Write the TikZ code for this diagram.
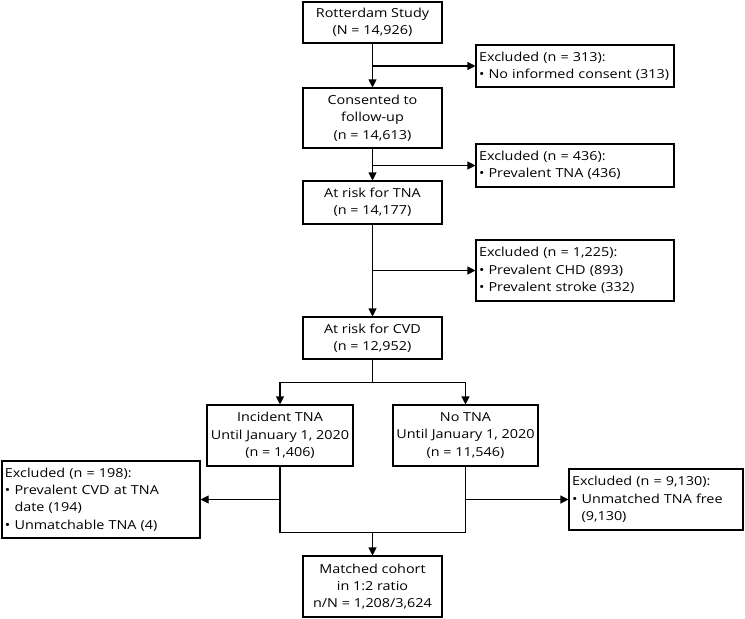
\documentclass[tikz,border=0pt]{standalone}
\usepackage{fontspec}
\setmainfont{Open Sans}[FakeStretch=1.16]
\usetikzlibrary{arrows.meta}
\begin{document}
\begin{tikzpicture}[x=1pt,y=-1pt,line width=1.1pt,
    box/.style={draw,align=center,minimum width=139pt,inner sep=1pt,
      font=\fontsize{12.4}{17.4}\selectfont},
    exbox/.style={draw,align=left,inner xsep=3pt,inner ysep=1pt,
      font=\fontsize{12.4}{17.4}\selectfont},
    arr/.style={-{Triangle[length=8pt,width=8pt]}}]
  \useasboundingbox (0,0) rectangle (745,619);
  \node[box,minimum height=41pt] (rs) at (372.5,22.5) {Rotterdam Study\\(N = 14,926)};
  \node[box,minimum height=60pt] (cons) at (372.5,118) {Consented to\\follow-up\\(n = 14,613)};
  \node[box,minimum height=43pt] (tna) at (372.5,202.5) {At risk for TNA\\(n = 14,177)};
  \node[box,minimum height=42pt] (cvd) at (372.5,338) {At risk for CVD\\(n = 12,952)};
  \node[box,minimum width=146pt,minimum height=61pt] (inc) at (280,435.5)
    {Incident TNA\\Until January 1, 2020\\(n = 1,406)};
  \node[box,minimum width=145pt,minimum height=61pt] (notna) at (465.5,435.5)
    {No TNA\\Until January 1, 2020\\(n = 11,546)};
  \node[box,minimum height=61pt] (match) at (372.5,586.5)
    {Matched cohort\\in 1:2 ratio\\n/N = 1,208/3,624};
  \node[exbox,text width=192pt,minimum height=42pt] (ex1) at (575,66)
    {Excluded (n = 313):\\• No informed consent (313)};
  \node[exbox,text width=192pt,minimum height=43pt] (ex2) at (575,165.5)
    {Excluded (n = 436):\\• Prevalent TNA (436)};
  \node[exbox,text width=192pt,minimum height=61pt] (ex3) at (575,270.5)
    {Excluded (n = 1,225):\\• Prevalent CHD (893)\\• Prevalent stroke (332)};
  \node[exbox,text width=192pt,minimum height=77pt] (ex4) at (101,499.5)
    {Excluded (n = 198):\\• Prevalent CVD at TNA\\\hphantom{•}\ date (194)\\• Unmatchable TNA (4)};
  \node[exbox,text width=168pt,minimum height=61pt] (ex5) at (656,499.5)
    {Excluded (n = 9,130):\\• Unmatched TNA free\\\hphantom{•}\ (9,130)};
  \draw[arr] (rs.south) -- (cons.north);
  \draw[arr] (cons.south) -- (tna.north);
  \draw[arr] (tna.south) -- (cvd.north);
  \coordinate (j1) at (rs.south |- ex1.west);
  \coordinate (j2) at (cons.south |- ex2.west);
  \coordinate (j3) at (tna.south |- ex3.west);
  \draw[arr] (j1) -- (ex1.west);
  \draw[arr] (j2) -- (ex2.west);
  \draw[arr] (j3) -- (ex3.west);
  \draw (cvd.south) -- ++(0,23) coordinate (split);
  \draw[arr] (split) -| (inc.north);
  \draw[arr] (split) -| (notna.north);
  \draw (inc.south) -- ++(0,66) coordinate (m1) -| (notna.south);
  \draw[arr] (m1 -| match.north) -- (match.north);
  \draw[arr] (inc.south |- ex4.east) -- (ex4.east);
  \draw[arr] (notna.south |- ex5.west) -- (ex5.west);
\end{tikzpicture}
\end{document}
